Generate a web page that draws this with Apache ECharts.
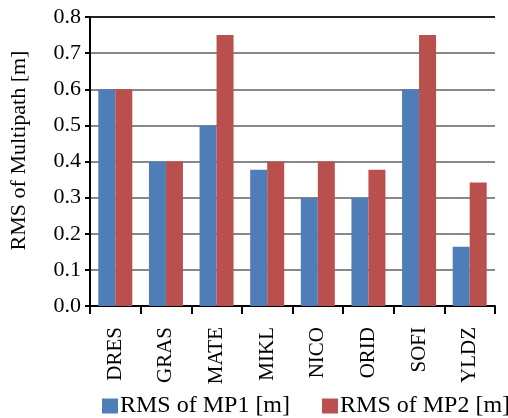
<!DOCTYPE html>
<html>
<head>
<meta charset="utf-8">
<script src="https://cdn.jsdelivr.net/npm/echarts@6/dist/echarts.min.js"></script>
<style>html,body{margin:0;padding:0;background:#fff;}#c{width:508px;height:418px;}</style>
</head>
<body>
<div id="c"></div>
<script>
var categories = ['DRES','GRAS','MATE','MIKL','NICO','ORID','SOFI','YLDZ'];
var mp1 = [0.6, 0.4, 0.5, 0.377, 0.3, 0.3, 0.6, 0.164];
var mp2 = [0.6, 0.4, 0.75, 0.4, 0.4, 0.377, 0.75, 0.342];
var seriesNames = ['RMS of MP1 [m]', 'RMS of MP2 [m]'];
var yTitle = 'RMS of Multipath [m]';

var font = 'Liberation Serif';
var chart = echarts.init(document.getElementById('c'));
chart.setOption({
  animation: false,
  backgroundColor: '#fff',
  grid: {left: 90, right: 13, top: 17, bottom: 112},
  legend: {
    data: seriesNames,
    left: 102, top: 394, width: 420, padding: 0,
    itemWidth: 16, itemHeight: 15, itemGap: 32,
    icon: 'rect',
    textStyle: {fontFamily: font, fontSize: 24, color: '#000', padding: [0,0,0,-3]}
  },
  xAxis: {
    type: 'category',
    data: categories,
    axisLine: {lineStyle: {color: '#000', width: 2}},
    axisTick: {show: true, length: 8, lineStyle: {color: '#000', width: 2}},
    axisLabel: {rotate: 90, fontFamily: font, fontSize: 21, color: '#000', margin: 21}
  },
  yAxis: {
    type: 'value', min: 0, max: 0.8, interval: 0.1,
    name: yTitle, nameLocation: 'middle', nameGap: 60,
    nameTextStyle: {fontFamily: font, fontSize: 22, color: '#000', padding: [0,0,0,22]},
    axisLine: {show: true, lineStyle: {color: '#000', width: 2}},
    axisTick: {show: true, length: 5, lineStyle: {color: '#000', width: 2}},
    axisLabel: {fontFamily: font, fontSize: 22, color: '#000', margin: 9, formatter: function(v){return v.toFixed(1);}},
    splitLine: {show: true, lineStyle: {color: ['#888','#888','#888','#888','#888','#888','#888','#888','#222'], width: 2}}
  },
  series: [
    {name: seriesNames[0], type: 'bar', data: mp1, barWidth: 17, barGap: '0%', itemStyle: {color: '#4F7DB8'}},
    {name: seriesNames[1], type: 'bar', data: mp2, barWidth: 17, barGap: '0%', itemStyle: {color: '#BA504D'}}
  ]
});
</script>
</body>
</html>
